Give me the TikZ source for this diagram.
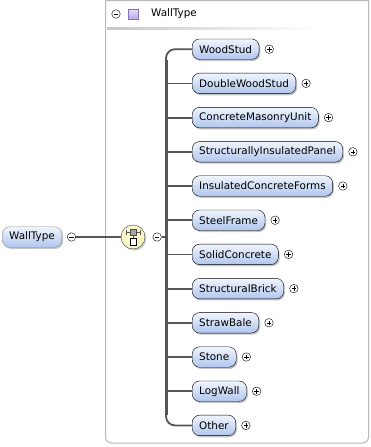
\documentclass[tikz,border=0pt]{standalone}
\usepackage{fontspec}
\setmainfont{DejaVu Sans}
\usetikzlibrary{positioning,shadows,chains}

\definecolor{elemtop}{RGB}{240,245,253}
\definecolor{elembot}{RGB}{176,198,238}
\definecolor{linkgray}{RGB}{85,85,85}
\definecolor{seqfill}{RGB}{252,247,198}
\definecolor{typetop}{RGB}{230,222,248}
\definecolor{typebot}{RGB}{186,170,228}
\definecolor{typeline}{RGB}{128,114,188}

\begin{document}
\begin{tikzpicture}[x=1pt,y=-1pt,font=\fontsize{10.4}{12}\selectfont,
  start chain=kids placed {at={(192,15+34.2*\tikzchaincount)}}]

  \tikzstyle{elemnode}=[draw=black,rounded corners=7.5pt,anchor=west,minimum height=20.5pt,
    inner xsep=7pt,inner ysep=0pt,top color=elemtop,bottom color=elembot,
    drop shadow={shadow xshift=1.3pt,shadow yshift=-1.6pt,opacity=0.45}]
  \tikzstyle{togglenode}=[draw=black,circle,minimum size=8.5pt,inner sep=0pt,fill=white]
  \tikzstyle{minusnode}=[togglenode,path picture={
    \draw[line width=0.6pt] (path picture bounding box.center) +(-2.3pt,0) -- +(2.3pt,0);}]
  \tikzstyle{plusnode}=[togglenode,path picture={
    \draw[line width=0.6pt] (path picture bounding box.center) +(-2.3pt,0) -- +(2.3pt,0)
      +(0,-2.3pt) -- +(0,2.3pt);}]
  \tikzstyle{branch}=[draw=linkgray,line width=1.8pt]

  % frame and header
  \useasboundingbox (0,0) rectangle (371,447);
  \draw[black!28,line width=1pt] (105.5,0.5) -- (368.5,0.5)
    [rounded corners=6pt] -- (368.5,443) -- (105.5,443) -- (105.5,0.5);
  \shade[left color=black!22,right color=white] (107,27.5) rectangle (320,29.5);
  \node[minusnode] (head-minus) at (116,14) {};
  \node[draw=typeline,top color=typetop,bottom color=typebot,minimum size=10pt,inner sep=0pt]
    (head-icon) at (133,14) {};
  \node[anchor=west,inner sep=0pt] (head-label) at (151,14) {WallType};

  % root element and sequence
  \node[elemnode,draw=black!45] (walltype) at (2,237) {WallType};
  \node[minusnode,right=5pt of walltype] (walltype-minus) {};
  \node[draw=black!75,circle,minimum size=24pt,fill=seqfill,
    drop shadow={shadow xshift=1.3pt,shadow yshift=-1.6pt,opacity=0.4}] (seq) at (133,237) {};
  \begin{scope}[shift={(seq)},line width=0.7pt]
    \draw[linkgray] (-7,-5) -- (7,-5) (-7,-7.5) -- (-7,-2.5) (7,-7.5) -- (7,-2.5) (0,-5) -- (0,2);
    \filldraw[draw=black!70,fill=black!35] (-3,-8) rectangle (3,-2);
    \filldraw[draw=black,fill=white] (-3,1.5) rectangle (3,8);
  \end{scope}
  \node[minusnode,right=7.5pt of seq] (seq-minus) {};
  \coordinate (trunk) at (166,237);

  % children
  \node[on chain,elemnode] (woodstud)       {WoodStud};
  \node[on chain,elemnode] (doublewoodstud) {DoubleWoodStud};
  \node[on chain,elemnode] (cmu)            {ConcreteMasonryUnit};
  \node[on chain,elemnode] (sip)            {StructurallyInsulatedPanel};
  \node[on chain,elemnode] (icf)            {InsulatedConcreteForms};
  \node[on chain,elemnode] (steelframe)     {SteelFrame};
  \node[on chain,elemnode] (solidconcrete)  {SolidConcrete};
  \node[on chain,elemnode] (structbrick)    {StructuralBrick};
  \node[on chain,elemnode] (strawbale)      {StrawBale};
  \node[on chain,elemnode] (stone)          {Stone};
  \node[on chain,elemnode] (logwall)        {LogWall};
  \node[on chain,elemnode] (other)          {Other};

  \node[plusnode,right=5.5pt of woodstud]       (woodstud-more)       {};
  \node[plusnode,right=5.5pt of doublewoodstud] (doublewoodstud-more) {};
  \node[plusnode,right=5.5pt of cmu]            (cmu-more)            {};
  \node[plusnode,right=5.5pt of sip]            (sip-more)            {};
  \node[plusnode,right=5.5pt of icf]            (icf-more)            {};
  \node[plusnode,right=5.5pt of steelframe]     (steelframe-more)     {};
  \node[plusnode,right=5.5pt of solidconcrete]  (solidconcrete-more)  {};
  \node[plusnode,right=5.5pt of structbrick]    (structbrick-more)    {};
  \node[plusnode,right=5.5pt of strawbale]      (strawbale-more)      {};
  \node[plusnode,right=5.5pt of stone]          (stone-more)          {};
  \node[plusnode,right=5.5pt of logwall]        (logwall-more)        {};
  \node[plusnode,right=5.5pt of other]          (other-more)          {};

  % connectors
  \draw[branch,line width=1.4pt] (walltype-minus) -- (seq);
  \draw[branch] (seq-minus) -- (trunk);
  \draw[branch,rounded corners=9pt] (woodstud.west) -| (trunk) |- (other.west);
  \draw[linkgray,line width=3pt] (trunk |- woodstud.south) -- (trunk |- other.north);
  \draw[branch] (trunk |- doublewoodstud.west) -- (doublewoodstud.west)
                (trunk |- cmu.west)            -- (cmu.west)
                (trunk |- sip.west)            -- (sip.west)
                (trunk |- icf.west)            -- (icf.west)
                (trunk |- steelframe.west)     -- (steelframe.west)
                (trunk |- solidconcrete.west)  -- (solidconcrete.west)
                (trunk |- structbrick.west)    -- (structbrick.west)
                (trunk |- strawbale.west)      -- (strawbale.west)
                (trunk |- stone.west)          -- (stone.west)
                (trunk |- logwall.west)        -- (logwall.west);
\end{tikzpicture}
\end{document}
